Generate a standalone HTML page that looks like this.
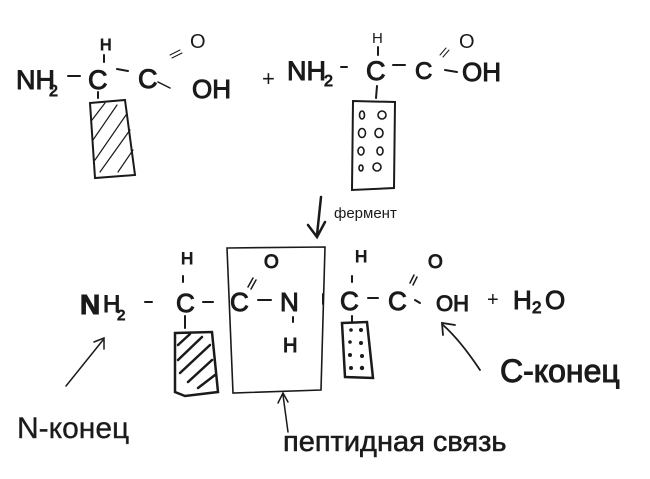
<!DOCTYPE html>
<html><head><meta charset="utf-8"><style>
html,body{margin:0;padding:0;background:#fff;}
svg{display:block}
text{font-family:"Liberation Sans","DejaVu Sans",sans-serif;fill:#1a1a1a;}
.b{stroke:#1a1a1a;stroke-width:1;}
.n{stroke:none;}
</style></head><body>
<svg width="650" height="479" viewBox="0 0 650 479" xmlns="http://www.w3.org/2000/svg">
<g stroke="#1a1a1a" stroke-width="2" fill="none" stroke-linecap="round">
<!-- top row -->
<text class="b" x="16" y="89" font-size="27">NH</text>
<text class="b" x="49" y="96" font-size="16">2</text>
<line x1="68" y1="76" x2="80" y2="76"/>
<text class="b" x="88" y="89" font-size="27">C</text>
<text class="b" x="100" y="50" font-size="16">H</text>
<line x1="104" y1="55" x2="104" y2="62"/>
<line x1="98" y1="92" x2="98" y2="98"/>
<line x1="117" y1="69" x2="128" y2="71"/>
<text class="b" x="138" y="88" font-size="27">C</text>
<line x1="158" y1="82" x2="170" y2="88" stroke-width="1.5"/>
<line x1="170" y1="55" x2="180" y2="50" stroke-width="1"/>
<line x1="172" y1="58" x2="182" y2="53" stroke-width="1"/>
<text class="n" x="190" y="48" font-size="20" fill="#333">O</text>
<text class="b" x="192" y="98" font-size="26">OH</text>
<path d="M90 103 L125 100 L135 175 L95 178 Z"/>
<g stroke-width="1.2"><line x1="92" y1="120" x2="105" y2="103"/><line x1="93" y1="140" x2="117" y2="105"/><line x1="95" y1="160" x2="126" y2="115"/><line x1="100" y1="172" x2="130" y2="130"/><line x1="118" y1="172" x2="133" y2="150"/></g>
<text class="n" x="262" y="86" font-size="22">+</text>
<text class="b" x="287" y="80" font-size="27">NH</text>
<text class="b" x="324" y="86" font-size="16">2</text>
<line x1="341" y1="67" x2="347" y2="67"/>
<text class="b" x="366" y="80" font-size="27">C</text>
<text class="n" x="372" y="43" font-size="15">H</text>
<line x1="378" y1="47" x2="378" y2="55"/>
<line x1="377" y1="86" x2="376" y2="98"/>
<line x1="393" y1="65" x2="405" y2="65"/>
<text class="b" x="415" y="79" font-size="24">C</text>
<line x1="440" y1="55" x2="446" y2="48" stroke-width="1"/>
<line x1="443" y1="57" x2="449" y2="50" stroke-width="1"/>
<text class="n" x="459" y="48" font-size="20">O</text>
<line x1="445" y1="70" x2="457" y2="72"/>
<text class="b" x="462" y="81" font-size="26">OH</text>
<path d="M353 101 L395 102 L394 188 L352 190 Z"/>
<g stroke-width="1.6">
<ellipse cx="362" cy="115" rx="2.5" ry="4"/><ellipse cx="382" cy="115" rx="4" ry="4"/>
<ellipse cx="362" cy="133" rx="3.5" ry="4.5"/><ellipse cx="379" cy="133" rx="4" ry="4.5"/>
<ellipse cx="361" cy="151" rx="3" ry="4"/><ellipse cx="380" cy="151" rx="3" ry="4"/>
<ellipse cx="361" cy="168" rx="2" ry="3"/><ellipse cx="377" cy="167" rx="4" ry="4"/>
</g>
<!-- enzyme arrow -->
<line x1="321" y1="197" x2="317" y2="235" stroke-width="2.5"/>
<path d="M308 225 L317 237 L325 222" stroke-width="2.5"/>
<text class="n" x="334" y="218" font-size="15" fill="#444">фермент</text>
<!-- bottom row -->
<text class="b" x="80" y="314" font-size="28" font-weight="bold">N</text>
<text class="b" x="103" y="312" font-size="24">H</text>
<text class="b" x="117" y="320" font-size="15">2</text>
<line x1="145" y1="302" x2="152" y2="302"/>
<text class="b" x="176" y="312" font-size="26">C</text>
<text class="b" x="181" y="264" font-size="17">H</text>
<line x1="183" y1="276" x2="183" y2="282"/>
<line x1="185" y1="316" x2="185" y2="328"/>
<line x1="203" y1="302" x2="213" y2="302"/>
<path d="M227 248 L325 247 L321 390 L233 393 Z" stroke-width="1.6"/>
<text class="b" x="230" y="311" font-size="26">C</text>
<line x1="248" y1="287" x2="253" y2="278" stroke-width="1.5"/>
<line x1="251" y1="289" x2="256" y2="280" stroke-width="1.5"/>
<text class="b" x="264" y="268" font-size="19">O</text>
<line x1="258" y1="300" x2="271" y2="300"/>
<text class="b" x="280" y="311" font-size="26">N</text>
<line x1="293" y1="317" x2="293" y2="322"/>
<text class="b" x="283" y="352" font-size="20">H</text>
<line x1="323" y1="294" x2="323" y2="304"/>
<text class="b" x="340" y="310" font-size="26">C</text>
<text class="b" x="355" y="262" font-size="17">H</text>
<line x1="352" y1="276" x2="352" y2="282"/>
<line x1="352" y1="316" x2="352" y2="322"/>
<line x1="368" y1="298" x2="378" y2="298"/>
<text class="b" x="388" y="310" font-size="26">C</text>
<line x1="410" y1="283" x2="414" y2="275" stroke-width="1.5"/>
<line x1="413" y1="285" x2="417" y2="277" stroke-width="1.5"/>
<text class="b" x="428" y="268" font-size="19">O</text>
<line x1="415" y1="300" x2="420" y2="303"/>
<text class="b" x="436" y="311" font-size="22">OH</text>
<text class="n" x="487" y="306" font-size="20">+</text>
<text class="b" x="513" y="309" font-size="26">H</text>
<text class="b" x="532" y="313" font-size="17">2</text>
<text class="b" x="545" y="309" font-size="26">O</text>
<path d="M175 333 L212 332 L218 392 L185 396 L175 392 Z" stroke-width="2.5"/>
<g stroke-width="2.5"><line x1="178" y1="345" x2="190" y2="334"/><line x1="178" y1="360" x2="202" y2="337"/><line x1="180" y1="373" x2="210" y2="345"/><line x1="188" y1="382" x2="212" y2="360"/><line x1="198" y1="388" x2="215" y2="375"/></g>
<path d="M342 323 L367 322 L373 378 L345 377 Z" stroke-width="2.5"/>
<g fill="#1a1a1a" stroke="none">
<circle cx="351" cy="330" r="1.8"/><circle cx="361" cy="330" r="2"/><circle cx="350" cy="342" r="1.8"/><circle cx="361" cy="343" r="2"/>
<circle cx="350" cy="355" r="2"/><circle cx="362" cy="356" r="2"/><circle cx="351" cy="368" r="2"/><circle cx="362" cy="368" r="2.2"/></g>
<!-- labels and arrows -->
<line x1="66" y1="386" x2="103" y2="340" stroke-width="1.5"/>
<path d="M94 342 L104 338 L104 349" stroke-width="1.5"/>
<text x="17" y="438" font-size="30" stroke="#333" stroke-width="0.4" fill="#333">N-конец</text>
<path d="M480 370 Q460 340 443 325" stroke-width="1.8"/>
<path d="M443 335 L442 323 L455 325" stroke-width="1.8"/>
<text class="b" x="500" y="382" font-size="32">C-конец</text>
<line x1="288" y1="432" x2="283" y2="395" stroke-width="1.5"/>
<path d="M278 403 L283 393 L288 402" stroke-width="1.5"/>
<text x="283" y="451" font-size="29" stroke="#222" stroke-width="0.6" fill="#222">пептидная связь</text>
</g>
</svg>
</body></html>
